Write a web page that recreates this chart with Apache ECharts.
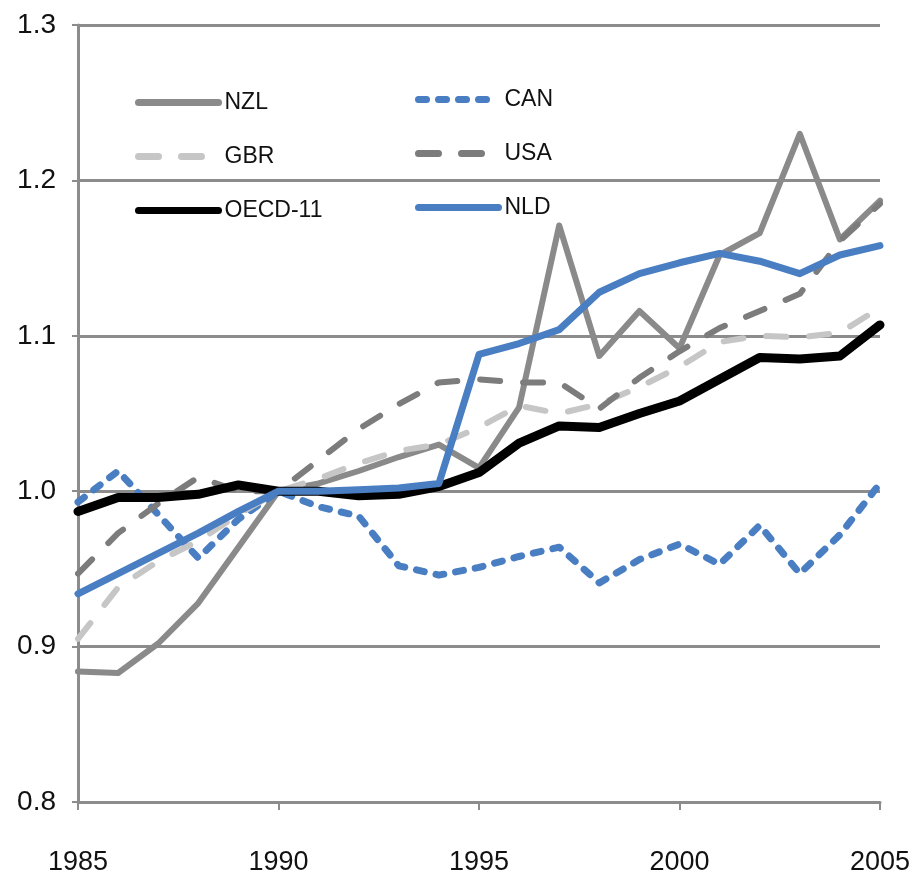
<!DOCTYPE html>
<html>
<head>
<meta charset="utf-8">
<script src="https://cdn.jsdelivr.net/npm/echarts@6/dist/echarts.min.js"></script>
<style>
html,body{margin:0;padding:0;background:#fff;}
#chart{width:918px;height:888px;}
</style>
</head>
<body>
<div id="chart"></div>
<script>
var years = [1985,1986,1987,1988,1989,1990,1991,1992,1993,1994,1995,1996,1997,1998,1999,2000,2001,2002,2003,2004,2005];
var xTicks = [1985,1990,1995,2000,2005];
var yTicks = [0.8,0.9,1.0,1.1,1.2,1.3];

var NZL   = [0.884,0.883,0.902,0.928,0.964,1.000,1.005,1.013,1.022,1.030,1.015,1.054,1.171,1.087,1.116,1.092,1.152,1.166,1.230,1.162,1.187];
var CAN   = [0.993,1.013,0.985,0.957,0.982,1.000,0.990,0.984,0.952,0.946,0.951,0.958,0.964,0.941,0.956,0.966,0.953,0.978,0.947,0.972,1.005];
var GBR   = [0.905,0.938,0.955,0.968,0.985,1.000,1.008,1.018,1.026,1.030,1.041,1.055,1.050,1.056,1.067,1.080,1.096,1.100,1.099,1.102,1.118];
var USA   = [0.947,0.973,0.992,1.009,1.000,1.000,1.020,1.040,1.056,1.070,1.072,1.070,1.070,1.053,1.073,1.090,1.105,1.116,1.127,1.161,1.185];
var OECD  = [0.987,0.996,0.996,0.998,1.004,1.000,1.000,0.997,0.998,1.003,1.012,1.031,1.042,1.041,1.050,1.058,1.072,1.086,1.085,1.087,1.107];
var NLD   = [0.934,0.947,0.960,0.973,0.987,1.000,1.000,1.001,1.002,1.005,1.088,1.095,1.104,1.128,1.140,1.147,1.153,1.148,1.140,1.152,1.158];

function pairs(vals){ return years.map(function(y,i){ return [y, vals[i]]; }); }

var chart = echarts.init(document.getElementById('chart'), null, {renderer:'canvas'});

var font = "'Liberation Sans Narrow','Arial Narrow','Liberation Sans',Arial,sans-serif";
var gridColor = '#8c8c8c';
var blue = '#4a7ec2';

function line(name, vals, color, width, type, z){
  return {
    name: name, type: 'line', data: pairs(vals), symbol: 'none', smooth: false,
    z: z, animation: false,
    lineStyle: { color: color, width: width, type: type, cap: 'round', join: 'round' },
    itemStyle: { color: color }
  };
}

function legendBlock(left, top, items){
  return { orient:'vertical', left: left, top: top, data: items, itemWidth: 80, itemHeight: 10, itemGap: 31,
    itemStyle: { opacity: 0 },
    lineStyle: { width: 7, cap: 'round' },
    textStyle:{ fontFamily: font, fontSize: 23, color:'#111', padding:[0,0,0,1] }, selectedMode:false };
}

var option = {
  animation: false,
  backgroundColor: '#fff',
  grid: { left: 78, right: 38, top: 25, bottom: 86, containLabel: false },
  legend: [
    legendBlock(130, 86, ['NZL','GBR','OECD-11']),
    legendBlock(410, 83, ['CAN','USA','NLD'])
  ],
  xAxis: {
    type:'value', min: 1985, max: 2005, interval: 5,
    axisLine:{ show:true, lineStyle:{ color: gridColor, width: 3 } },
    axisTick:{ show:true, length: 8, inside:false, lineStyle:{ color: gridColor, width: 2 } },
    axisLabel:{ margin: 47, fontFamily: font, fontSize: 27, color:'#111',
      formatter: function(v){ return xTicks.indexOf(v) >= 0 ? String(v) : ''; } },
    splitLine:{ show:false }
  },
  yAxis: {
    type:'value', min: 0.8, max: 1.3, interval: 0.1,
    axisLine:{ show:true, lineStyle:{ color: gridColor, width: 3 } },
    axisTick:{ show:true, length: 6, lineStyle:{ color: gridColor, width: 2 } },
    axisLabel:{ margin: 22, fontFamily: "'Liberation Sans',Arial,sans-serif", fontSize: 28, color:'#111',
      formatter: function(v){ var t = Math.round(v*10)/10; return yTicks.indexOf(t) >= 0 ? t.toFixed(1) : ''; } },
    splitLine:{ show:true, lineStyle:{ color: gridColor, width: 3 } }
  },
  series: [
    line('NZL', NZL, '#8a8a8a', 6, 'solid', 2),
    line('CAN', CAN, blue, 7, [8,12], 3),
    line('GBR', GBR, '#c6c6c6', 6, [20,23], 4),
    line('USA', USA, '#7c7c7c', 6, [20,23], 5),
    line('OECD-11', OECD, '#000000', 9, 'solid', 6),
    line('NLD', NLD, blue, 7, 'solid', 7)
  ]
};
chart.setOption(option);
</script>
</body>
</html>
